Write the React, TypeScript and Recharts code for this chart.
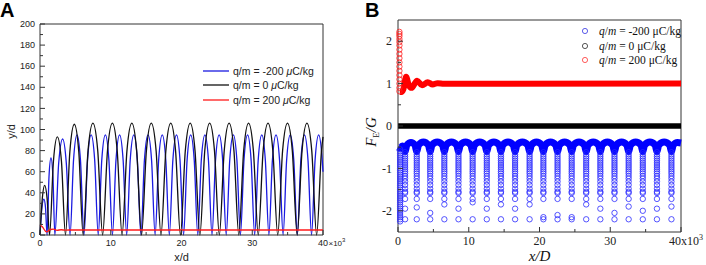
import React from "react";
import {
  LineChart,
  Line,
  XAxis,
  YAxis,
  ReferenceLine,
  Legend,
  ComposedChart,
  Scatter,
} from "recharts";

// ---------- panel A : particle height y/d against x/d (x in 10^3) ----------
const blueTrack: [number, number][] = [
  [0, 0], [0.27, 26], [0.55, 34], [0.78, 26], [1.0, 0],
  [1.27, 55], [1.55, 73], [1.83, 55], [2.1, 0],
  [2.64, 68], [3.2, 91], [3.72, 68], [4.25, 0],
  [4.74, 71], [5.23, 95], [5.72, 71], [6.22, 0],
  [6.72, 71], [7.23, 95], [7.73, 71], [8.23, 0],
  [8.73, 71], [9.24, 95], [9.74, 71], [10.24, 0],
  [10.74, 71], [11.25, 95], [11.75, 71], [12.25, 0],
  [12.75, 71], [13.26, 95], [13.76, 71], [14.26, 0],
  [14.76, 71], [15.27, 95], [15.77, 71], [16.27, 0],
  [16.77, 71], [17.28, 95], [17.78, 71], [18.28, 0],
  [18.78, 71], [19.29, 95], [19.79, 71], [20.29, 0],
  [20.79, 71], [21.3, 95], [21.8, 71], [22.3, 0],
  [22.8, 71], [23.31, 95], [23.81, 71], [24.31, 0],
  [24.81, 71], [25.32, 95], [25.82, 71], [26.32, 0],
  [26.82, 71], [27.33, 95], [27.83, 71], [28.33, 0],
  [28.83, 71], [29.34, 95], [29.84, 71], [30.34, 0],
  [30.84, 71], [31.35, 95], [31.85, 71], [32.35, 0],
  [32.85, 71], [33.36, 95], [33.86, 71], [34.36, 0],
  [34.86, 71], [35.37, 95], [35.87, 71], [36.37, 0],
  [36.87, 71], [37.38, 95], [37.88, 71], [38.38, 0],
  [38.88, 71], [39.39, 95], [39.89, 71], [40, 60],
];

const blackTrack: [number, number][] = [
  [0, 0], [0.33, 35], [0.66, 47], [1.0, 35], [1.35, 0],
  [1.9, 70], [2.45, 93], [3.03, 70], [3.6, 0],
  [4.22, 79], [4.85, 105], [5.48, 79], [6.1, 0],
  [6.79, 80], [7.48, 106], [8.16, 80], [8.85, 0],
  [9.54, 80], [10.23, 106], [10.91, 80], [11.6, 0],
  [12.29, 80], [12.98, 106], [13.66, 80], [14.35, 0],
  [15.04, 80], [15.73, 106], [16.41, 80], [17.1, 0],
  [17.79, 80], [18.48, 106], [19.16, 80], [19.85, 0],
  [20.54, 80], [21.23, 106], [21.91, 80], [22.6, 0],
  [23.29, 80], [23.98, 106], [24.66, 80], [25.35, 0],
  [26.04, 80], [26.73, 106], [27.41, 80], [28.1, 0],
  [28.79, 80], [29.48, 106], [30.16, 80], [30.85, 0],
  [31.54, 80], [32.23, 106], [32.91, 80], [33.6, 0],
  [34.29, 80], [34.98, 106], [35.66, 80], [36.35, 0],
  [37.04, 80], [37.73, 106], [38.41, 80], [39.1, 0],
  [39.79, 80], [40, 93],
];

const redTrack: [number, number][] = [
  [0, 9.5], [0.3, 8], [0.9, 3], [1.5, 5.2], [1.9, 5.6], [2.4, 4.4],
  [3.0, 5], [3.6, 4.6], [4.5, 4.8], [40, 4.8],
];

const chargeLabels = ["-200", "0", "200"];
const seriesColors = ["#1a1ae0", "#111111", "#ff1a1a"];

const yTicksA = [0, 10, 20, 30, 40, 50, 60, 70, 80, 90, 100, 110, 120, 130, 140, 150, 160, 170, 180, 190, 200];
const xTicks = [0, 5, 10, 15, 20, 25, 30, 35, 40];

// ---------- panel B : F_E/G against x/D ----------
// thick band of overlapping rings, drawn as a wide line
const blueArch: [number, number][] = [
  [0, -0.5], [0.3, -0.52], [0.6, -0.47], [1.0, -0.6],
  [1.25, -0.45], [1.83, -0.39], [2.4, -0.45], [2.65, -0.6],
  [2.9, -0.45], [3.6, -0.38], [4.3, -0.45], [4.55, -0.6],
  [4.8, -0.45], [5.55, -0.38], [6.3, -0.45], [6.55, -0.6],
  [6.8, -0.45], [7.55, -0.38], [8.3, -0.45], [8.55, -0.6],
  [8.8, -0.45], [9.55, -0.38], [10.3, -0.45], [10.55, -0.6],
  [10.8, -0.45], [11.55, -0.38], [12.3, -0.45], [12.55, -0.6],
  [12.8, -0.45], [13.55, -0.38], [14.3, -0.45], [14.55, -0.6],
  [14.8, -0.45], [15.55, -0.38], [16.3, -0.45], [16.55, -0.6],
  [16.8, -0.45], [17.58, -0.38], [18.35, -0.45], [18.6, -0.6],
  [18.85, -0.45], [19.58, -0.38], [20.3, -0.45], [20.55, -0.6],
  [20.8, -0.45], [21.55, -0.38], [22.3, -0.45], [22.55, -0.6],
  [22.8, -0.45], [23.55, -0.38], [24.3, -0.45], [24.55, -0.6],
  [24.8, -0.45], [25.58, -0.38], [26.35, -0.45], [26.6, -0.6],
  [26.85, -0.45], [27.6, -0.38], [28.35, -0.45], [28.6, -0.6],
  [28.85, -0.45], [29.6, -0.38], [30.35, -0.45], [30.6, -0.6],
  [30.85, -0.45], [31.6, -0.38], [32.35, -0.45], [32.6, -0.6],
  [32.85, -0.45], [33.6, -0.38], [34.35, -0.45], [34.6, -0.6],
  [34.85, -0.45], [35.6, -0.38], [36.35, -0.45], [36.6, -0.6],
  [36.85, -0.45], [37.62, -0.38], [38.4, -0.45], [38.65, -0.6],
  [38.9, -0.45], [39.5, -0.39], [40, -0.4],
];

// x positions of the downward columns (bounces)
const dipColumns = [1.0, 2.65, 4.55, 6.55, 8.55, 10.55, 12.55, 14.55, 16.55, 18.6, 20.55, 22.55, 24.55, 26.6, 28.6, 30.6, 32.6, 34.6, 36.6, 38.65];
const dipLevels = [-0.62, -0.67, -0.72, -0.77, -0.82, -0.87, -0.92, -0.97, -1.02, -1.07, -1.12, -1.18, -1.24, -1.31, -1.39, -1.48, -1.55, -1.58, -1.72, -2.2];
const dipExtra = [-1.95, -1.92, -2.05, -1.85, -1.95, -1.8, -1.95, -1.85, -1.95, -1.85, -2.15, -2.1, -2.15, -1.85, -1.95, -2.05, -1.9, -2.0, -1.95, -1.9];
const firstColumnX = 0.3;
const firstColumn = [
  -0.55, -0.6, -0.65, -0.7, -0.75, -0.8, -0.85, -0.9, -0.95, -1.0, -1.05, -1.1, -1.15, -1.2, -1.25, -1.3, -1.35, -1.4,
  -1.45, -1.5, -1.55, -1.6, -1.65, -1.7, -1.75, -1.8, -1.85, -1.9, -1.95, -2.0, -2.05, -2.1, -2.15, -2.2, -2.25,
];

const redSpikeX = 0.2;
const redSpike = [2.22, 2.17, 2.12, 2.05, 1.98, 1.9, 1.8, 1.7, 1.6, 1.5, 1.4, 1.3, 1.2, 1.1, 1.0, 0.9, 0.82];
const redBand: [number, number][] = [
  [0.25, 0.8], [0.5, 0.8], [0.75, 0.86], [1.15, 1.16], [1.55, 0.95], [1.9, 0.9], [2.7, 1.07],
  [3.4, 0.96], [4.2, 1.03], [4.9, 0.98], [5.6, 1.01], [6.5, 0.995], [40, 1.0],
];
const blackBand: [number, number][] = [[0, 0], [40, 0]];

const yTicksB = [-2, -1.5, -1, -0.5, 0, 0.5, 1, 1.5, 2];

const toPts = (arr: [number, number][]) => arr.map(([x, y]) => ({ x, y }));

const blueDips = [
  ...firstColumn.map((y) => ({ x: firstColumnX, y })),
  ...dipColumns.flatMap((x, i) => [...dipLevels, dipExtra[i]].map((y) => ({ x, y }))),
];
const redDots = redSpike.map((y) => ({ x: redSpikeX, y }));

const sans = "'Liberation Sans', Arial, sans-serif";
const serif = "'Liberation Serif', 'Times New Roman', serif";
const axisColor = "#333";

function makeYTick(gap: number, fontFamily: string, fontSize: number, major: (v: number) => boolean) {
  return (p: any) => {
    const v = p.payload.value;
    const ax = p.x + gap;
    const big = major(v);
    return (
      <g>
        <line x1={ax} x2={ax + (big ? 5 : 3)} y1={p.y} y2={p.y} stroke={axisColor} strokeWidth={1} />
        {big && (
          <text x={p.x} y={p.y} dy="0.35em" textAnchor="end" fontFamily={fontFamily} fontSize={fontSize} fill="#222">
            {v}
          </text>
        )}
      </g>
    );
  };
}

function makeXTick(gap: number, fontFamily: string, fontSize: number, panel: "A" | "B") {
  return (p: any) => {
    const v = p.payload.value;
    const ay = p.y - gap;
    const big = v % 10 === 0;
    let label: React.ReactNode = null;
    if (big && v === 40 && panel === "A") {
      label = (
        <>
          <text x={p.x} y={p.y} dy="0.71em" textAnchor="middle" fontFamily={fontFamily} fontSize={fontSize} fill="#222">
            40
          </text>
          <text x={p.x + 5.5} y={p.y} dy="0.71em" textAnchor="start" fontFamily={fontFamily} fontSize={8} fill="#222">
            ×10
            <tspan fontSize={6} dy={-3.5}>3</tspan>
          </text>
        </>
      );
    } else if (big && v === 40) {
      label = (
        <text x={p.x - 12} y={p.y} dy="0.71em" textAnchor="start" fontFamily={fontFamily} fontSize={fontSize} fill="#222">
          40x10
          <tspan fontSize={8} dy={-5}>3</tspan>
        </text>
      );
    } else if (big) {
      label = (
        <text x={p.x} y={p.y} dy="0.71em" textAnchor="middle" fontFamily={fontFamily} fontSize={fontSize} fill="#222">
          {v}
        </text>
      );
    }
    return (
      <g>
        <line x1={p.x} x2={p.x} y1={ay} y2={ay - (big ? 5 : 3)} stroke={axisColor} strokeWidth={1} />
        {label}
      </g>
    );
  };
}

const LegendA = () => (
  <div style={{ fontFamily: sans, fontSize: 10.5, color: "#222", lineHeight: "14px" }}>
    {chargeLabels.map((q, i) => (
      <div key={q} style={{ display: "flex", alignItems: "center", height: 14.3, whiteSpace: "nowrap" }}>
        <svg width={26} height={4} style={{ display: "block" }}>
          <line x1={0} x2={26} y1={2} y2={2} stroke={seriesColors[i]} strokeWidth={1.3} />
        </svg>
        <span style={{ marginLeft: 4 }}>
          q/m = {q} <i>μ</i>C/kg
        </span>
      </div>
    ))}
  </div>
);

const LegendB = () => (
  <div style={{ fontFamily: serif, fontSize: 11.5, color: "#111", lineHeight: "14px" }}>
    {chargeLabels.map((q, i) => (
      <div key={q} style={{ display: "flex", alignItems: "center", height: 14.5, whiteSpace: "nowrap" }}>
        <svg width={8} height={8} style={{ display: "block" }}>
          <circle cx={4} cy={4} r={2.6} fill="none" stroke={seriesColors[i]} strokeWidth={0.7} />
        </svg>
        <span style={{ marginLeft: 10 }}>
          <i>q</i>/<i>m</i> = {q} μC/kg
        </span>
      </div>
    ))}
  </div>
);

const ring = (color: string) => (p: any) =>
  <circle cx={p.cx} cy={p.cy} r={2.7} fill="none" stroke={color} strokeWidth={0.8} />;

const panelLetter: React.CSSProperties = {
  position: "absolute",
  top: 0,
  fontFamily: sans,
  fontWeight: 700,
  fontSize: 20,
  lineHeight: "21px",
};

export default function App() {
  return (
    <div style={{ position: "relative", width: 706, height: 265, background: "#fff", overflow: "hidden" }}>
      <style>{"body{margin:0}"}</style>
      <div style={{ ...panelLetter, left: 0 }}>A</div>
      <div style={{ ...panelLetter, left: 365 }}>B</div>

      <div style={{ position: "absolute", left: 0, top: 0 }}>
        <LineChart width={352} height={265} margin={{ top: 24, right: 29, bottom: 0, left: 0 }}>
          <XAxis
            type="number"
            dataKey="x"
            domain={[0, 40]}
            ticks={xTicks}
            interval={0}
            height={30}
            tickLine={false}
            tickSize={0}
            tickMargin={5}
            stroke={axisColor}
            tick={makeXTick(5, sans, 9, "A")}
            label={{
              content: (p: any) => (
                <text x={p.viewBox.x + p.viewBox.width / 2} y={p.viewBox.y + 26} textAnchor="middle" fontFamily={sans} fontSize={11} fill="#222">
                  x/d
                </text>
              ),
            }}
          />
          <YAxis
            type="number"
            domain={[0, 200]}
            ticks={yTicksA}
            interval={0}
            width={40}
            tickLine={false}
            tickSize={0}
            tickMargin={5}
            stroke={axisColor}
            tick={makeYTick(5, sans, 9, (v) => v % 20 === 0)}
            label={{
              content: (p: any) => {
                const cy = p.viewBox.y + p.viewBox.height / 2 + 2;
                return (
                  <text x={11} y={cy} transform={`rotate(-90 11 ${cy})`} textAnchor="middle" dy="0.35em" fontFamily={sans} fontSize={11} fill="#222">
                    y/d
                  </text>
                );
              },
            }}
          />
          <ReferenceLine y={200} stroke={axisColor} ifOverflow="visible" />
          <ReferenceLine x={40} stroke={axisColor} ifOverflow="visible" />
          <Line data={toPts(blueTrack)} dataKey="y" type="monotone" stroke={seriesColors[0]} strokeWidth={1.3} dot={false} activeDot={false} isAnimationActive={false} />
          <Line data={toPts(blackTrack)} dataKey="y" type="monotone" stroke={seriesColors[1]} strokeWidth={1.3} dot={false} activeDot={false} isAnimationActive={false} />
          <Line data={toPts(redTrack)} dataKey="y" type="monotone" stroke={seriesColors[2]} strokeWidth={1.4} dot={false} activeDot={false} isAnimationActive={false} />
          <Legend
            layout="horizontal"
            verticalAlign="middle"
            align="center"
            content={<LegendA />}
            wrapperStyle={{ position: "absolute", left: 203, top: 64, width: 140, height: 44 }}
          />
        </LineChart>
      </div>

      <div style={{ position: "absolute", left: 356, top: 0 }}>
        <ComposedChart width={350} height={265} margin={{ top: 20, right: 25, bottom: 0, left: 0 }}>
          <XAxis
            type="number"
            dataKey="x"
            domain={[0, 40]}
            ticks={xTicks}
            interval={0}
            height={33}
            tickLine={false}
            tickSize={0}
            tickMargin={4}
            stroke={axisColor}
            tick={makeXTick(4, serif, 12, "B")}
            label={{
              content: (p: any) => (
                <text x={p.viewBox.x + p.viewBox.width / 2} y={p.viewBox.y + 29} textAnchor="middle" fontFamily={serif} fontStyle="italic" fontSize={15} fill="#111">
                  x/D
                </text>
              ),
            }}
          />
          <YAxis
            type="number"
            dataKey="y"
            domain={[-2.5, 2.5]}
            ticks={yTicksB}
            interval={0}
            width={42}
            tickLine={false}
            tickSize={0}
            tickMargin={6}
            stroke={axisColor}
            tick={makeYTick(6, serif, 12, (v) => Number.isInteger(v))}
            label={{
              content: (p: any) => {
                const cy = p.viewBox.y + p.viewBox.height / 2 + 6;
                return (
                  <text x={15} y={cy} transform={`rotate(-90 15 ${cy})`} textAnchor="middle" dy="0.35em" fontFamily={serif} fontStyle="italic" fontSize={15} fill="#111">
                    F<tspan fontSize={9} dy={3} fontStyle="normal">E</tspan>
                    <tspan dy={-3}>/G</tspan>
                  </text>
                );
              },
            }}
          />
          <ReferenceLine y={2.5} stroke={axisColor} ifOverflow="visible" />
          <ReferenceLine x={40} stroke={axisColor} ifOverflow="visible" />
          <Line data={toPts(blackBand)} dataKey="y" type="linear" stroke="#000" strokeWidth={5.5} dot={false} activeDot={false} isAnimationActive={false} />
          <Line data={toPts(redBand)} dataKey="y" type="monotone" stroke="#ff0000" strokeWidth={6} dot={false} activeDot={false} isAnimationActive={false} />
          <Line data={toPts(blueArch)} dataKey="y" type="monotone" stroke="#0000ff" strokeWidth={7} dot={false} activeDot={false} isAnimationActive={false} />
          <Scatter data={blueDips} dataKey="y" shape={ring("#2a2aff")} isAnimationActive={false} />
          <Scatter data={redDots} dataKey="y" shape={ring("#ff2020")} isAnimationActive={false} />
          <Legend
            layout="horizontal"
            verticalAlign="middle"
            align="center"
            content={<LegendB />}
            wrapperStyle={{ position: "absolute", left: 225, top: 24, width: 130, height: 44 }}
          />
        </ComposedChart>
      </div>
    </div>
  );
}
